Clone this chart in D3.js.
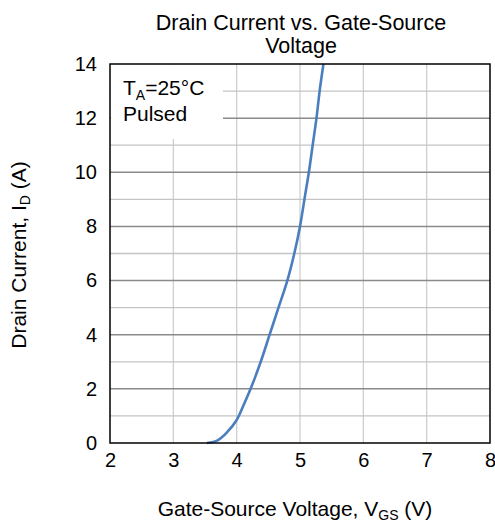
<!DOCTYPE html>
<html>
<head>
<meta charset="utf-8">
<script src="https://cdn.jsdelivr.net/npm/d3@7"></script>
<style>
  body { margin: 0; background: #fff; }
  svg text { font-family: "Liberation Sans", Arial, sans-serif; fill: #000; }
</style>
</head>
<body>
<svg id="chart"></svg>
<script>
// curve: gate-source voltage (V) vs drain current (A)
var vgs = [3.53, 3.7, 3.85, 4.0, 4.1, 4.22, 4.38, 4.52, 4.66, 4.8, 4.91, 5.0, 5.07, 5.14, 5.2, 5.26, 5.31, 5.37];
var id  = [0, 0.1, 0.4, 0.85, 1.35, 2, 3, 4, 5, 6, 7, 8, 9, 10, 11, 12, 13, 14];
var xTicks = [2, 3, 4, 5, 6, 7, 8];
var yTicks = [0, 2, 4, 6, 8, 10, 12, 14];
var yGrid = d3.range(1, 14);

var width = 495, height = 526;
var margin = { top: 64, right: 5, bottom: 83, left: 110 };
var fs = "21px";

var svg = d3.select("#chart")
  .attr("width", width)
  .attr("height", height);

var x = d3.scaleLinear().domain([2, 8]).range([margin.left, width - margin.right]);
var y = d3.scaleLinear().domain([0, 14]).range([height - margin.bottom, margin.top]);

// vertical grid
svg.append("g")
  .selectAll("line")
  .data(xTicks.slice(1, -1))
  .enter().append("line")
  .attr("x1", d => x(d)).attr("x2", d => x(d))
  .attr("y1", y(0)).attr("y2", y(14))
  .attr("stroke", "#cfcfcf")
  .attr("stroke-width", 1.3);

// horizontal grid, even values darker
svg.append("g")
  .selectAll("line")
  .data(yGrid)
  .enter().append("line")
  .attr("x1", x(2)).attr("x2", x(8))
  .attr("y1", d => y(d)).attr("y2", d => y(d))
  .attr("stroke", d => d % 2 === 0 ? "#8a8a8a" : "#c4c4c4")
  .attr("stroke-width", d => d % 2 === 0 ? 1.5 : 1.3);

// curve
var line = d3.line()
  .x((d, i) => x(vgs[i]))
  .y(d => y(d))
  .curve(d3.curveCatmullRom.alpha(0.5));

svg.append("path")
  .datum(id)
  .attr("d", line)
  .attr("fill", "none")
  .attr("stroke", "#4a7ebf")
  .attr("stroke-width", 2.6);

// annotation box
svg.append("rect")
  .attr("x", x(2) + 1).attr("y", y(14) + 1)
  .attr("width", 112).attr("height", 74)
  .attr("fill", "#fff");

var note = svg.append("text")
  .attr("x", 123).attr("y", 95)
  .style("font-size", fs);
note.append("tspan").text("T");
note.append("tspan").attr("dy", 5).style("font-size", "14px").text("A");
note.append("tspan").attr("dy", -5).text("=25°C");

svg.append("text")
  .attr("x", 123).attr("y", 121)
  .style("font-size", fs)
  .text("Pulsed");

// plot border
svg.append("rect")
  .attr("x", x(2)).attr("y", y(14))
  .attr("width", x(8) - x(2)).attr("height", y(0) - y(14))
  .attr("fill", "none")
  .attr("stroke", "#000")
  .attr("stroke-width", 1.5);

// axes
var xAxis = d3.axisBottom(x).tickValues(xTicks).tickSize(0).tickPadding(10).tickFormat(d3.format("d"));
var yAxis = d3.axisLeft(y).tickValues(yTicks).tickSize(0).tickPadding(13).tickFormat(d3.format("d"));

svg.append("g")
  .attr("transform", `translate(0, ${y(0)})`)
  .call(xAxis)
  .call(g => g.select(".domain").remove())
  .selectAll("text")
  .style("font-size", "20px")
  .style("font-family", "Liberation Sans, Arial, sans-serif");

svg.append("g")
  .attr("transform", `translate(${x(2)}, 0)`)
  .call(yAxis)
  .call(g => g.select(".domain").remove())
  .selectAll("text")
  .style("font-size", "20px")
  .style("font-family", "Liberation Sans, Arial, sans-serif");

// title
svg.append("text")
  .attr("x", 301).attr("y", 30)
  .style("text-anchor", "middle")
  .style("font-size", "21.5px")
  .text("Drain Current vs. Gate-Source");
svg.append("text")
  .attr("x", 301).attr("y", 53)
  .style("text-anchor", "middle")
  .style("font-size", "21.5px")
  .text("Voltage");

// axis titles
var xt = svg.append("text")
  .attr("x", 295).attr("y", 516)
  .style("text-anchor", "middle")
  .style("font-size", fs);
xt.append("tspan").text("Gate-Source Voltage, V");
xt.append("tspan").attr("dy", 4).style("font-size", "14px").text("GS");
xt.append("tspan").attr("dy", -4).text(" (V)");

var yt = svg.append("text")
  .attr("transform", "translate(26, 255) rotate(-90)")
  .style("text-anchor", "middle")
  .style("font-size", fs);
yt.append("tspan").text("Drain Current, I");
yt.append("tspan").attr("dy", 4).style("font-size", "14px").text("D");
yt.append("tspan").attr("dy", -4).text(" (A)");
</script>
</body>
</html>
